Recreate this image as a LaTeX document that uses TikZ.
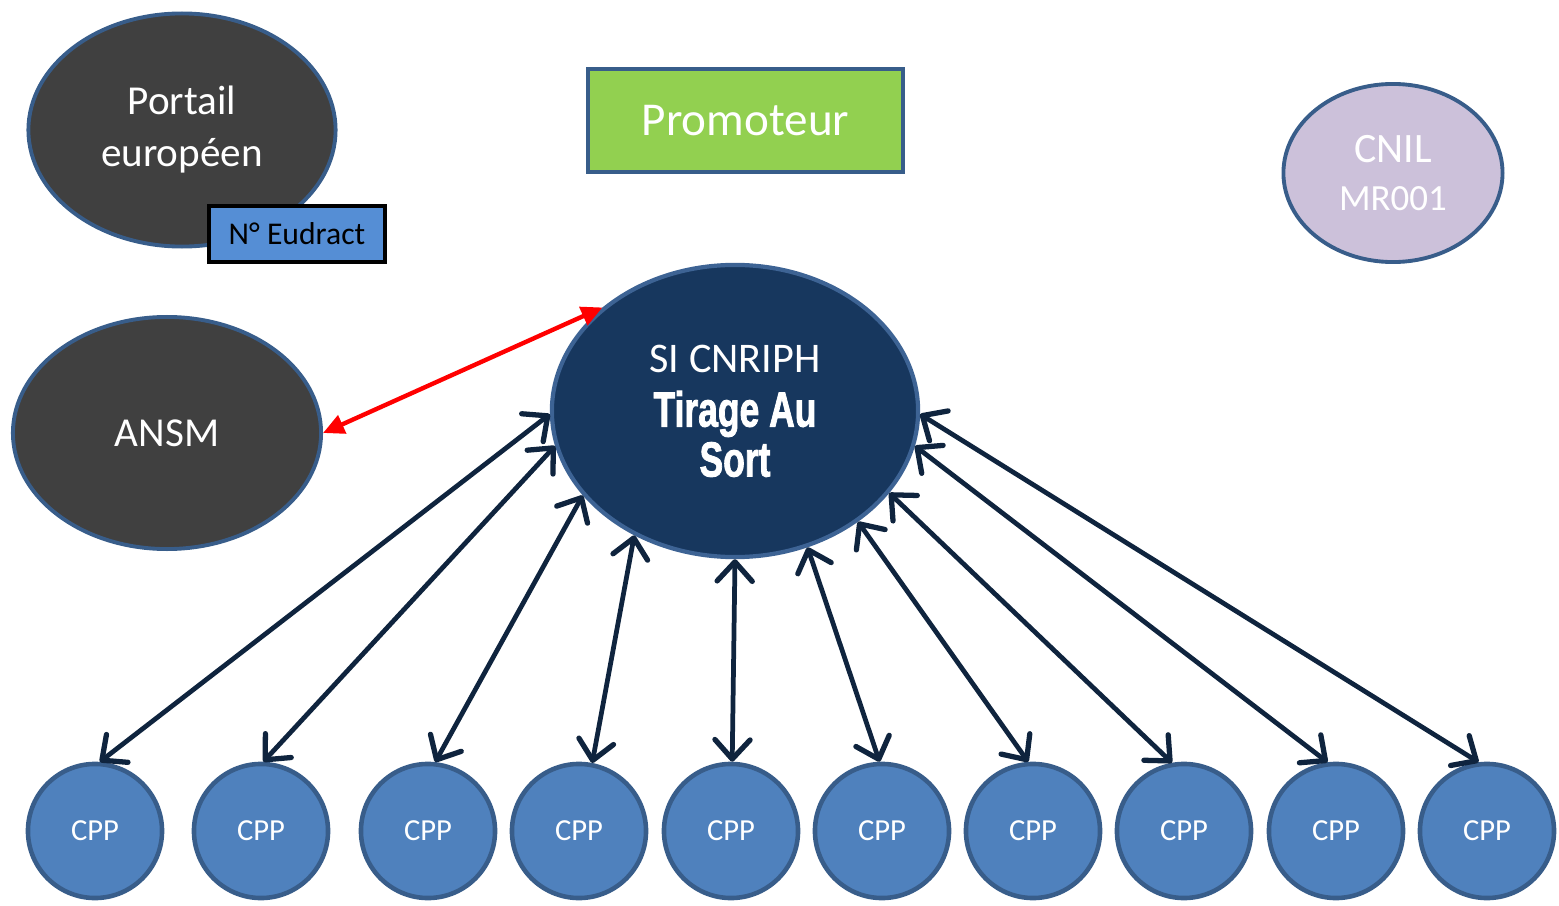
\documentclass[tikz,border=0pt]{standalone}
\usepackage{fontspec}
\setmainfont{Carlito}
\newfontfamily\impactfont{Liberation Sans}[BoldFeatures={FakeBold=2}]
\usetikzlibrary{shapes.geometric,arrows.meta}
\definecolor{bordblue}{HTML}{385D8A}
\definecolor{sibord}{HTML}{3D6394}
\definecolor{darkgrey}{HTML}{404040}
\definecolor{sifill}{HTML}{17375E}
\definecolor{cppblue}{HTML}{4F81BD}
\definecolor{eudblue}{HTML}{558ED5}
\definecolor{promgreen}{HTML}{92D050}
\definecolor{cnilfill}{HTML}{CCC1DA}
\definecolor{navy}{HTML}{0F243E}
\tikzset{
  ell/.style={ellipse, draw=bordblue, line width=1.1pt, inner sep=0pt, text=white, align=center},
  cpp/.style={circle, draw=bordblue, line width=1.3pt, fill=cppblue, minimum size=1.34cm, inner sep=0pt, text=white, font=\fontsize{8.7}{10}\selectfont},
  barb/.tip={Straight Barb[length=5.5pt,width=10pt,line width=1.5pt,line cap=round,line join=round]},
  link/.style={draw=navy, line width=1.35pt, line cap=round, barb-barb},
  redlink/.style={draw=red, line width=1.25pt, {Triangle[length=6pt,width=5.5pt]}-{Triangle[length=6pt,width=5.5pt]}}
}
\begin{document}
\begin{tikzpicture}[x=0.01cm,y=-0.01cm]
\useasboundingbox (0,0) rectangle (1559,906);
% top nodes
\node[ell, fill=darkgrey, minimum width=3.07cm, minimum height=2.33cm, font=\fontsize{11.7}{14.8}\selectfont] (portail) at (182,130) {Portail\\europ\'een};
\node[draw=black, line width=1pt, fill=eudblue, minimum width=1.76cm, minimum height=0.56cm, inner sep=0pt, font=\fontsize{9}{11}\selectfont] (eud) at (297,234) {N° Eudract};
\node[draw=bordblue, line width=1.2pt, fill=promgreen, minimum width=3.15cm, minimum height=1.03cm, inner sep=0pt, text=white, font=\fontsize{13.4}{16}\selectfont] (prom) at (745.5,120.5) {Promoteur};
\node[ell, fill=cnilfill, minimum width=2.19cm, minimum height=1.78cm] (cnil) at (1393,173) {{\fontsize{11.9}{13}\selectfont CNIL}\\[1.5pt]{\fontsize{10.5}{13}\selectfont MR001}};
\node[ell, fill=darkgrey, minimum width=3.08cm, minimum height=2.32cm, font=\fontsize{11.7}{14}\selectfont] (ansm) at (167,433) {ANSM};
\node[ellipse, draw=sibord, line width=1.2pt, fill=sifill, minimum width=3.66cm, minimum height=2.92cm, inner sep=0pt, text=white, align=center, font=\impactfont\bfseries\fontsize{14}{14.2}\selectfont] (si) at (735,411)
  {{\rmfamily\mdseries\fontsize{12}{14}\selectfont SI CNRIPH}\\[1.2pt]\scalebox{0.72}[1]{Tirage Au}\\\scalebox{0.72}[1]{Sort}};
% CPP row
\foreach \i/\x in {1/95,2/261,3/428,4/579,5/731,6/882,7/1033,8/1184,9/1336,10/1487}{
  \node[cpp] (cpp\i) at (\x,831) {CPP};
}
% connectors
\draw[redlink] (ansm.east) -- (si.142);
\draw[link] (cpp1.86) -- (si.181);
\draw[link] (cpp2.88) -- (si.191.6);
\draw[link] (cpp3.84) -- (si.209.3);
\draw[link] (cpp4.79) -- (si.231.4);
\draw[link] (cpp5.89) -- (si.270.4);
\draw[link] (cpp6.92) -- (si.298.3);
\draw[link] (cpp7.94) -- (si.318.6);
\draw[link] (cpp8.100) -- (si.332.1);
\draw[link] (cpp9.97) -- (si.349);
\draw[link] (cpp10.97) -- (si.359.4);
\end{tikzpicture}
\end{document}
